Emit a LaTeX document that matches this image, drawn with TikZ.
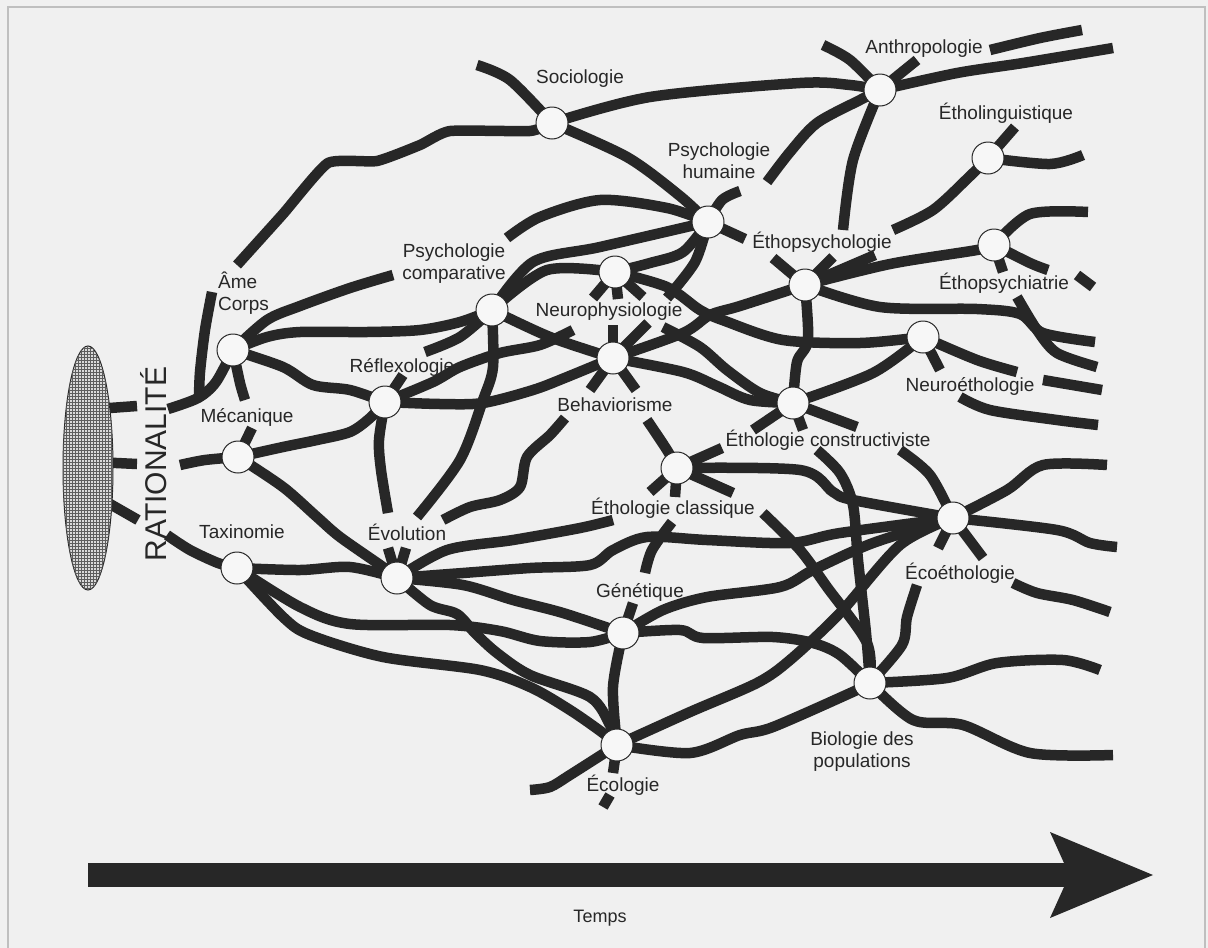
\documentclass[tikz,border=0pt]{standalone}
\usepackage{fontspec}
\setmainfont{Liberation Sans}
\usetikzlibrary{shapes.geometric,patterns}
\pgfdeclarelayer{bg}
\pgfsetlayers{bg,main}
\definecolor{ink}{HTML}{272727}
\definecolor{paper}{HTML}{F0F0F0}

\begin{document}
\begin{tikzpicture}[x=1pt,y=-1pt]
  \tikzstyle{hub}=[circle,draw=ink,line width=1pt,fill=white!97!black,minimum size=32pt,inner sep=0pt]
  \tikzstyle{lbl}=[font=\fontsize{19}{22}\selectfont,text=ink,align=center,inner sep=1pt]
  \tikzstyle{branch}=[draw=ink,line width=10.5pt,line join=round]
  \useasboundingbox (0,0) rectangle (1208,948);
  \begin{pgfonlayer}{bg}
    \fill[paper] (0,0) rectangle (1208,948);
    \draw[gray!50,line width=2pt] (8,948) -- (8,7) -- (1205,7) -- (1205,948);
  \end{pgfonlayer}

  \node[ellipse,draw=ink,line width=1pt,fill=gray!30,minimum width=50pt,minimum height=244pt,
    postaction={pattern=grid,pattern color=ink!75}] (ovale) at (88,468) {};
  \node[rotate=90,font=\fontsize{30}{30}\selectfont,text=ink] (ratio) at (154,464) {RATIONALITÉ};

  \node[hub] (ame) at (233,350) {};
  \node[hub] (meca) at (238,457) {};
  \node[hub] (taxo) at (237,568) {};
  \node[hub] (reflexo) at (385,402) {};
  \node[hub] (evol) at (397,578) {};
  \node[hub] (psycomp) at (492,310) {};
  \node[hub] (neuro) at (615,272) {};
  \node[hub] (behav) at (613,358) {};
  \node[hub] (psyhum) at (708,222) {};
  \node[hub] (socio) at (552,123) {};
  \node[hub] (anthro) at (880,90) {};
  \node[hub] (etholing) at (988,158) {};
  \node[hub] (ethopsychia) at (994,245) {};
  \node[hub] (ethopsycho) at (805,285) {};
  \node[hub] (neuroeth) at (923,337) {};
  \node[hub] (ethoconst) at (793,403) {};
  \node[hub] (ethoclass) at (677,468) {};
  \node[hub] (genet) at (623,633) {};
  \node[hub] (ecoeth) at (953,518) {};
  \node[hub] (biopop) at (870,683) {};
  \node[hub] (ecolo) at (617,745) {};

  \node[lbl,anchor=west,align=left] (lAme) at (217,293) {Âme\\Corps};
  \node[lbl] (lMeca) at (247,417) {Mécanique};
  \node[lbl] (lTaxo) at (242,532) {Taxinomie};
  \node[lbl] (lReflexo) at (402,367) {Réflexologie};
  \node[lbl] (lEvol) at (407,532) {Évolution};
  \node[lbl] (lPsycomp) at (454,264) {Psychologie\\comparative};
  \node[lbl] (lNeuro) at (609,312) {Neurophysiologie};
  \node[lbl] (lBehav) at (615,405) {Behaviorisme};
  \node[lbl] (lPsyhum) at (719,161) {Psychologie\\humaine};
  \node[lbl] (lSocio) at (580,79) {Sociologie};
  \node[lbl] (lAnthro) at (924,49) {Anthropologie};
  \node[lbl] (lEtholing) at (1006,113) {Étholinguistique};
  \node[lbl] (lEthopsycho) at (822,242) {Éthopsychologie};
  \node[lbl] (lEthopsychia) at (1004,283) {Éthopsychiatrie};
  \node[lbl] (lNeuroeth) at (970,386) {Neuroéthologie};
  \node[lbl] (lEthoconst) at (828,440) {Éthologie constructiviste};
  \node[lbl] (lEthoclass) at (673,508) {Éthologie classique};
  \node[lbl] (lGenet) at (640,592) {Génétique};
  \node[lbl] (lEcoeth) at (960,573) {Écoéthologie};
  \node[lbl] (lBiopop) at (862,752) {Biologie des\\populations};
  \node[lbl] (lEcolo) at (623,785) {Écologie};
  \node[lbl,font=\fontsize{18}{20}\selectfont] (lTemps) at (600,918) {Temps};

  \fill[ink] (88,863) rectangle (1064,887);
  \fill[ink] (1050,832) -- (1153,875) -- (1050,918) -- (1064,887) -- (1064,863) -- cycle;

  \coordinate (fR1a) at (96,409); \coordinate (fR1b) at (137,406);
  \coordinate (fR2a) at (96,462); \coordinate (fR2b) at (137,464);
  \coordinate (fR3a) at (96,496); \coordinate (fR3b) at (138,520);
  \coordinate (fRat1) at (168,409); \coordinate (fRat2) at (180,465); \coordinate (fRat3) at (167,535);
  \coordinate (fCorps) at (212,292); \coordinate (fAme) at (237,265);
  \coordinate (fAmeUp) at (393,275); \coordinate (fAmeDn) at (245,400); \coordinate (fMeca) at (252,428);
  \coordinate (fEvolA) at (388,548); \coordinate (fEvolB) at (406,548); \coordinate (fEvolUp) at (613,520);
  \coordinate (fRefDn) at (388,513); \coordinate (fRefUp) at (403,375); \coordinate (fRefNe) at (573,330);
  \coordinate (fCompDn) at (417,517); \coordinate (fCompSw) at (425,352); \coordinate (fHum) at (507,238);
  \coordinate (fNeu1) at (593,298); \coordinate (fNeu2) at (618,299); \coordinate (fNeu3) at (643,297);
  \coordinate (fBeh1) at (613,325); \coordinate (fBeh2) at (648,323); \coordinate (fBeh3) at (590,390); \coordinate (fBeh4) at (636,390);
  \coordinate (fBehA) at (565,418); \coordinate (fBehB) at (443,520); \coordinate (fBehC) at (647,420);
  \coordinate (fHumDn) at (667,298); \coordinate (fCons) at (663,327);
  \coordinate (fHum1) at (740,191); \coordinate (fHum2) at (745,239); \coordinate (fSoc) at (477,65);
  \coordinate (fAnth1) at (767,182); \coordinate (fAnth2) at (823,45); \coordinate (fAnth3) at (917,60);
  \coordinate (fAnth4) at (1113,48); \coordinate (fAnthDn) at (843,230);
  \coordinate (fTopA) at (990,50); \coordinate (fTopB) at (1082,30);
  \coordinate (fPsy1) at (875,255); \coordinate (fPsy2) at (833,257); \coordinate (fPsy3) at (773,258); \coordinate (fPsy4) at (1095,342);
  \coordinate (fLing) at (893,230); \coordinate (fLing2) at (1015,127); \coordinate (fLing3) at (1083,155);
  \coordinate (fChia1) at (1088,212); \coordinate (fChia2) at (1048,270); \coordinate (fChia3) at (1003,272);
  \coordinate (fBitA) at (1077,275); \coordinate (fBitB) at (1093,287);
  \coordinate (fCrossA) at (1017,297); \coordinate (fCrossB) at (1097,367);
  \coordinate (fNeuroE1) at (1017,372); \coordinate (fNeuroE2) at (940,370);
  \coordinate (fMidA) at (1043,380); \coordinate (fMidB) at (1102,390);
  \coordinate (fLowA) at (960,397); \coordinate (fLowB) at (1098,425);
  \coordinate (fCons1) at (857,427); \coordinate (fCons2) at (803,430); \coordinate (fCons3) at (753,430);
  \coordinate (fCls1) at (722,448); \coordinate (fCls2) at (733,493); \coordinate (fCls3) at (650,492); \coordinate (fCls4) at (675,497);
  \coordinate (fClsR) at (763,513); \coordinate (fGenA) at (672,522); \coordinate (fGenB) at (645,573);
  \coordinate (fConsDn) at (817,450); \coordinate (fEcoUp) at (900,450);
  \coordinate (fEco1) at (1107,465); \coordinate (fEco2) at (1117,547); \coordinate (fEco3) at (938,548); \coordinate (fEco4) at (983,558);
  \coordinate (fEcoDn) at (917,585); \coordinate (fRightA) at (1013,583); \coordinate (fRightB) at (1110,612);
  \coordinate (fGen) at (633,603); \coordinate (fEcol1) at (530,790); \coordinate (fEcol2) at (613,773);
  \coordinate (fEcolA) at (603,807); \coordinate (fEcolB) at (610,795);
  \coordinate (fPop1) at (1100,670); \coordinate (fPop2) at (1113,755);

  \begin{pgfonlayer}{bg}
    \draw[branch] (fR1a) -- (fR1b);
    \draw[branch] (fR2a) -- (fR2b);
    \draw[branch] (fR3a) -- (fR3b);
    \draw[branch] plot[smooth] coordinates {(fRat1) (198,398) (216,382) (ame.center)};
    \draw[branch] plot[smooth] coordinates {(fCorps) (205,330) (200,372) (199,399)};
    \draw[branch] plot[smooth] coordinates {(fRat2) (205,460) (meca.center)};
    \draw[branch] plot[smooth] coordinates {(fRat3) (190,550) (218,563) (taxo.center)};
    \draw[branch] plot[smooth,tension=.3] coordinates {(fAme) (283,214) (328,163) (377,161) (420,145) (450,131) (530,131) (socio.center)};
    \draw[branch] plot[smooth] coordinates {(ame.center) (267,320) (300,306) (350,288) (fAmeUp)};
    \draw[branch] plot[smooth] coordinates {(ame.center) (267,337) (300,332) (367,332) (420,330) (460,322) (psycomp.center)};
    \draw[branch] plot[smooth] coordinates {(ame.center) (283,367) (313,385) (350,390) (reflexo.center)};
    \draw[branch] plot[smooth] coordinates {(ame.center) (240,383) (fAmeDn)};
    \draw[branch] (meca.center) -- (fMeca);
    \draw[branch] plot[smooth] coordinates {(meca.center) (283,447) (317,440) (350,432) (370,418) (reflexo.center)};
    \draw[branch] plot[smooth] coordinates {(meca.center) (283,487) (317,517) (340,537) (383,567) (evol.center)};
    \draw[branch] plot[smooth] coordinates {(taxo.center) (300,570) (350,567) (evol.center)};
    \draw[branch] plot[smooth] coordinates {(taxo.center) (300,607) (350,624) (450,625) (500,631) (540,641) (590,642) (genet.center)};
    \draw[branch] plot[smooth] coordinates {(taxo.center) (283,617) (310,635) (383,657) (480,670) (530,687) (570,710) (603,733) (ecolo.center)};
    \draw[branch] plot[smooth] coordinates {(evol.center) (463,585) (513,600) (563,613) (genet.center)};
    \draw[branch] plot[smooth] coordinates {(evol.center) (430,605) (457,614) (475,633) (497,653) (530,675) (590,697) (610,725) (ecolo.center)};
    \draw[branch] plot[smooth] coordinates {(evol.center) (463,573) (530,568) (590,565) (613,550) (647,537) (707,540) (790,543) (840,533) (ecoeth.center)};
    \draw[branch] plot[smooth] coordinates {(evol.center) (447,550) (513,540) (580,528) (fEvolUp)};
    \draw[branch] (evol.center) -- (fEvolA);
    \draw[branch] (evol.center) -- (fEvolB);
    \draw[branch] plot[smooth] coordinates {(reflexo.center) (379,440) (381,470) (fRefDn)};
    \draw[branch] (reflexo.center) -- (fRefUp);
    \draw[branch] plot[smooth] coordinates {(reflexo.center) (440,404) (483,403) (533,390) (567,377) (behav.center)};
    \draw[branch] plot[smooth] coordinates {(reflexo.center) (433,382) (460,367) (500,353) (540,345) (fRefNe)};
    \draw[branch] plot[smooth] coordinates {(psycomp.center) (493,367) (483,400) (460,460) (fCompDn)};
    \draw[branch] plot[smooth] coordinates {(psycomp.center) (550,337) (behav.center)};
    \draw[branch] plot[smooth] coordinates {(psycomp.center) (460,337) (fCompSw)};
    \draw[branch] plot[smooth] coordinates {(psycomp.center) (547,270) (neuro.center)};
    \draw[branch] plot[smooth] coordinates {(psycomp.center) (533,262) (600,247) (psyhum.center)};
    \draw[branch] plot[smooth] coordinates {(fHum) (540,217) (600,200) (667,208) (psyhum.center)};
    \draw[branch] plot[smooth] coordinates {(neuro.center) (650,263) (683,252) (psyhum.center)};
    \draw[branch] plot[smooth] coordinates {(neuro.center) (667,287) (700,310) (725,321) (783,340) (860,343) (neuroeth.center)};
    \draw[branch] (neuro.center) -- (fNeu1);
    \draw[branch] (neuro.center) -- (fNeu2);
    \draw[branch] (neuro.center) -- (fNeu3);
    \draw[branch] (behav.center) -- (fBeh1);
    \draw[branch] (behav.center) -- (fBeh2);
    \draw[branch] (behav.center) -- (fBeh3);
    \draw[branch] (behav.center) -- (fBeh4);
    \draw[branch] plot[smooth] coordinates {(behav.center) (683,333) (710,315) (740,306) (ethopsycho.center)};
    \draw[branch] plot[smooth] coordinates {(behav.center) (683,372) (717,386) (750,400) (ethoconst.center)};
    \draw[branch] plot[smooth] coordinates {(fBehA) (550,435) (527,457) (520,487) (500,500) (470,507) (fBehB)};
    \draw[branch] plot[smooth] coordinates {(fBehC) (667,450) (ethoclass.center)};
    \draw[branch] plot[smooth] coordinates {(psyhum.center) (695,262) (fHumDn)};
    \draw[branch] plot[smooth] coordinates {(fCons) (700,347) (727,370) (760,393) (ethoconst.center)};
    \draw[branch] plot[smooth] coordinates {(psyhum.center) (722,200) (fHum1)};
    \draw[branch] (psyhum.center) -- (fHum2);
    \draw[branch] plot[smooth] coordinates {(fSoc) (510,80) (socio.center)};
    \draw[branch] plot[smooth] coordinates {(socio.center) (650,97) (800,83) (850,85) (anthro.center)};
    \draw[branch] plot[smooth] coordinates {(socio.center) (627,157) (680,196) (psyhum.center)};
    \draw[branch] plot[smooth] coordinates {(fAnth1) (790,152) (817,123) (860,100) (anthro.center)};
    \draw[branch] plot[smooth] coordinates {(fAnth2) (850,60) (anthro.center)};
    \draw[branch] (anthro.center) -- (fAnth3);
    \draw[branch] plot[smooth] coordinates {(anthro.center) (957,73) (1023,63) (fAnth4)};
    \draw[branch] plot[smooth] coordinates {(fTopA) (1040,38) (fTopB)};
    \draw[branch] plot[smooth] coordinates {(anthro.center) (853,160) (fAnthDn)};
    \draw[branch] (ethopsycho.center) -- (fPsy1);
    \draw[branch] (ethopsycho.center) -- (fPsy2);
    \draw[branch] (ethopsycho.center) -- (fPsy3);
    \draw[branch] plot[smooth] coordinates {(fLing) (933,210) (968,178) (etholing.center)};
    \draw[branch] (etholing.center) -- (fLing2);
    \draw[branch] plot[smooth] coordinates {(etholing.center) (1050,164) (fLing3)};
    \draw[branch] plot[smooth] coordinates {(ethopsycho.center) (890,264) (977,250) (ethopsychia.center)};
    \draw[branch] plot[smooth] coordinates {(ethopsycho.center) (880,307) (977,309) (1020,314) (1043,333) (fPsy4)};
    \draw[branch] plot[smooth] coordinates {(ethopsychia.center) (1030,214) (fChia1)};
    \draw[branch] plot[smooth] coordinates {(ethopsychia.center) (1030,263) (fChia2)};
    \draw[branch] (ethopsychia.center) -- (fChia3);
    \draw[branch] (fBitA) -- (fBitB);
    \draw[branch] plot[smooth] coordinates {(fCrossA) (1037,330) (1057,353) (fCrossB)};
    \draw[branch] plot[smooth] coordinates {(ethopsycho.center) (808,340) (797,362) (ethoconst.center)};
    \draw[branch] plot[smooth] coordinates {(ethoconst.center) (873,373) (neuroeth.center)};
    \draw[branch] plot[smooth] coordinates {(neuroeth.center) (977,360) (fNeuroE1)};
    \draw[branch] (neuroeth.center) -- (fNeuroE2);
    \draw[branch] (fMidA) -- (fMidB);
    \draw[branch] plot[smooth] coordinates {(fLowA) (990,410) (1057,420) (fLowB)};
    \draw[branch] (ethoconst.center) -- (fCons1);
    \draw[branch] (ethoconst.center) -- (fCons2);
    \draw[branch] (ethoconst.center) -- (fCons3);
    \draw[branch] (ethoclass.center) -- (fCls1);
    \draw[branch] (ethoclass.center) -- (fCls2);
    \draw[branch] (ethoclass.center) -- (fCls3);
    \draw[branch] (ethoclass.center) -- (fCls4);
    \draw[branch] plot[smooth] coordinates {(ethoclass.center) (800,470) (833,492) (853,500) (ecoeth.center)};
    \draw[branch] plot[smooth] coordinates {(fClsR) (800,550) (827,587) (867,643) (biopop.center)};
    \draw[branch] plot[smooth] coordinates {(fGenA) (652,550) (fGenB)};
    \draw[branch] plot[smooth] coordinates {(fConsDn) (840,473) (853,505) (858,560) (866,633) (biopop.center)};
    \draw[branch] plot[smooth] coordinates {(fEcoUp) (930,475) (ecoeth.center)};
    \draw[branch] plot[smooth] coordinates {(ecoeth.center) (1007,490) (1043,465) (fEco1)};
    \draw[branch] plot[smooth] coordinates {(ecoeth.center) (1057,530) (1090,543) (fEco2)};
    \draw[branch] (ecoeth.center) -- (fEco3);
    \draw[branch] (ecoeth.center) -- (fEco4);
    \draw[branch] plot[smooth] coordinates {(fEcoDn) (907,617) (902,645) (biopop.center)};
    \draw[branch] plot[smooth] coordinates {(fRightA) (1037,593) (1073,600) (fRightB)};
    \draw[branch] (genet.center) -- (fGen);
    \draw[branch] plot[smooth] coordinates {(genet.center) (663,610) (707,597) (780,587) (813,570) (873,543) (ecoeth.center)};
    \draw[branch] plot[smooth] coordinates {(genet.center) (680,630) (703,638) (773,637) (813,643) (840,655) (biopop.center)};
    \draw[branch] plot[smooth] coordinates {(genet.center) (613,687) (ecolo.center)};
    \draw[branch] plot[smooth] coordinates {(ecolo.center) (690,712) (757,683) (790,660) (840,613) (900,545) (ecoeth.center)};
    \draw[branch] plot[smooth] coordinates {(ecolo.center) (690,753) (740,735) (773,727) (857,690) (biopop.center)};
    \draw[branch] plot[smooth] coordinates {(ecolo.center) (570,775) (550,787) (fEcol1)};
    \draw[branch] (ecolo.center) -- (fEcol2);
    \draw[branch] (fEcolA) -- (fEcolB);
    \draw[branch] plot[smooth] coordinates {(biopop.center) (947,678) (997,663) (1063,660) (fPop1)};
    \draw[branch] plot[smooth] coordinates {(biopop.center) (913,720) (963,725) (1030,753) (fPop2)};
  \end{pgfonlayer}
\end{tikzpicture}
\end{document}
